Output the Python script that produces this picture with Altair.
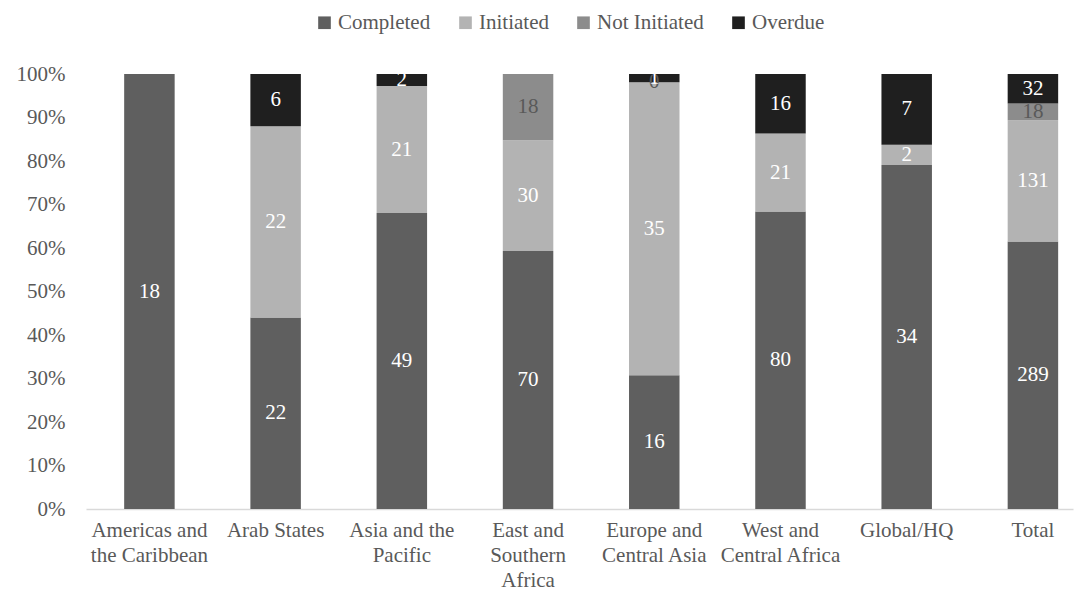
import altair as alt
import pandas as pd

categories = ["Americas and|the Caribbean", "Arab States", "Asia and the|Pacific",
              "East and|Southern|Africa", "Europe and|Central Asia",
              "West and|Central Africa", "Global/HQ", "Total"]
statuses = ["Completed", "Initiated", "Not Initiated", "Overdue"]
completed = [18, 22, 49, 70, 16, 80, 34, 289]
initiated = [None, 22, 21, 30, 35, 21, 2, 131]
not_initiated = [None, None, None, 18, 0, None, None, 18]
overdue = [None, 6, 2, None, 1, 16, 7, 32]
colors = ["#5f5f5f", "#b3b3b3", "#8c8c8c", "#1f1f1f"]

rows = []
for i, cat in enumerate(categories):
    for k, (st, vals) in enumerate(zip(statuses, [completed, initiated, not_initiated, overdue])):
        v = vals[i]
        if v is not None:
            rows.append({"category": cat, "status": st, "order": k, "value": v})
df = pd.DataFrame(rows)

FONT = "'Times New Roman', 'Liberation Serif', 'DejaVu Serif', serif"
TXT = "#595959"

xenc = alt.X("category:N", sort=categories, title=None,
             scale=alt.Scale(paddingInner=0.6, paddingOuter=0.21, align=0.72),
             axis=alt.Axis(labelExpr="split(datum.label, '|')", labelAngle=0,
                           labelFont=FONT, labelFontSize=21, labelColor=TXT,
                           labelLineHeight=25, labelPadding=10, ticks=False,
                           domainColor="#d9d9d9", domainWidth=1.3, grid=False))

base = alt.Chart(df).transform_joinaggregate(
    total="sum(value)", groupby=["category"]
).transform_calculate(
    frac="datum.value / datum.total"
).transform_window(
    cum="sum(frac)", sort=[alt.SortField("order")], groupby=["category"], frame=[None, 0]
).transform_calculate(
    lo="datum.cum - datum.frac", mid="datum.cum - datum.frac / 2"
)

bars = base.mark_bar().encode(
    x=xenc,
    y=alt.Y("lo:Q", title=None, scale=alt.Scale(domain=[0, 1], nice=False),
            axis=alt.Axis(format=".0%", values=[i / 10 for i in range(11)],
                          labelFont=FONT, labelFontSize=21, labelColor=TXT,
                          labelPadding=21, ticks=False, domain=False, grid=False)),
    y2="cum:Q",
    color=alt.Color("status:N", scale=alt.Scale(domain=statuses, range=colors),
                    legend=alt.Legend(title=None, orient="none", direction="horizontal",
                                      legendX=228, legendY=-62, symbolType="square",
                                      symbolSize=160, symbolStrokeWidth=0,
                                      labelFont=FONT, labelFontSize=21, labelColor=TXT,
                                      labelOffset=3, columnPadding=24)),
    order=alt.Order("order:Q"),
)

labels = base.mark_text(font=FONT, fontSize=21, baseline="middle").encode(
    x=alt.X("category:N", sort=categories),
    y=alt.Y("mid:Q"),
    text=alt.Text("value:Q"),
    color=alt.condition("datum.status == 'Not Initiated'", alt.value("#595959"), alt.value("#ffffff")),
)

chart = alt.layer(bars, labels).properties(
    width=987, height=435,
    autosize="none",
    padding={"left": 86, "top": 74, "right": 10, "bottom": 83},
).configure_view(stroke=None)

chart.save("out.html", embed_options={"renderer": "svg", "actions": False})
